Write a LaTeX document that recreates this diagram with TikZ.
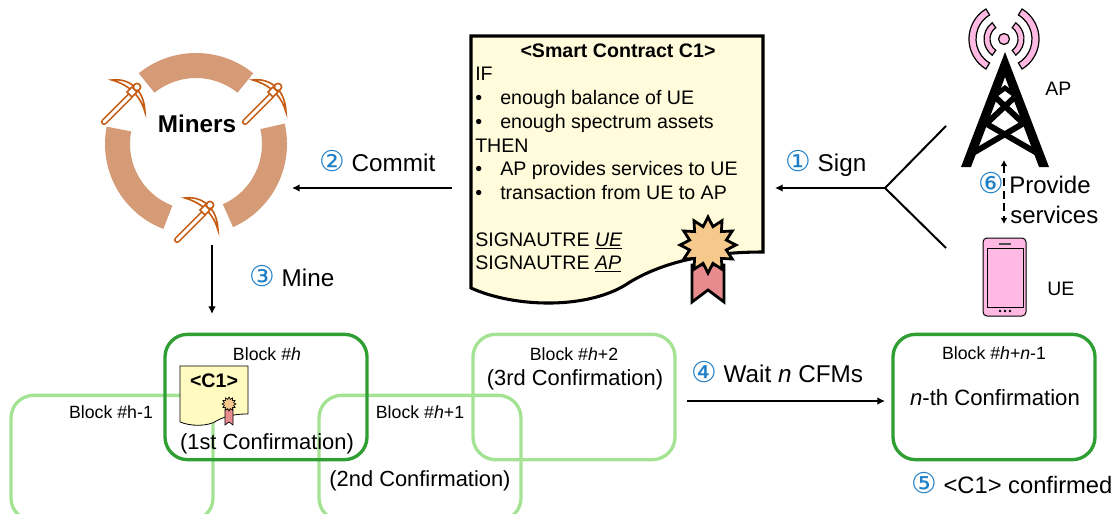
\documentclass[tikz,border=0pt]{standalone}
\usepackage{fontspec}
\setmainfont{Liberation Sans}
\newfontfamily\circfont{DejaVu Sans}
\usepackage{tikz}
\usetikzlibrary{arrows.meta}

\definecolor{ringtan}{HTML}{D59B77}
\definecolor{pickorange}{HTML}{C55A11}
\definecolor{paper}{HTML}{FFFBDB}
\definecolor{minipaper}{HTML}{FFFBC0}
\definecolor{sealgold}{HTML}{F4C98B}
\definecolor{ribbonred}{HTML}{E88B8F}
\definecolor{devpink}{HTML}{FFB9E2}
\definecolor{darkgreen}{HTML}{2F9E33}
\definecolor{lightgreen}{HTML}{A5E394}
\definecolor{stepblue}{HTML}{1F7FC8}

\newcommand{\fsz}[1]{\fontsize{#1}{#1}\selectfont}
\newcommand{\stepno}[1]{{\circfont\color{stepblue}\fsz{21.5}#1}}

\tikzset{
  txt/.style={inner sep=0pt, anchor=base west, text=black},
  big/.style={txt, font=\fsz{18.2}},
  conf/.style={inner sep=0pt, anchor=base, font=\fsz{16.4}},
  small/.style={inner sep=0pt, anchor=base, font=\fsz{13.3}},
  doc/.style={txt, font=\fsz{14.7}},
  link/.style={black, line width=1.3pt, arrows=-{Latex[length=2mm,width=2mm]}},
  blockbox/.style={draw, rounded corners=17pt, line width=2.5pt, minimum width=151.5pt, minimum height=94pt, inner sep=0pt},
  pickaxe/.pic={
    \draw [pickorange, line width=4.6pt, line cap=round] (-28,30) -- (-2,4); % handle
    \draw [white, line width=2.2pt, line cap=round] (-28,30) -- (-2,4);
    \draw [pickorange, fill=white, line width=1.2pt] (-20,-12) .. controls (-4,-14) and (12,-4) .. (13,20) .. controls (9,6) and (0,-6) .. cycle; % blade
    \draw [pickorange, fill=white, line width=1.2pt] (5,-5) circle (3.6);
    \draw [pickorange, fill=white, line width=1.2pt] (0,-5) -- (5,0) -- (0,5) -- (-5,0) -- cycle;
  }
}

% #1,#2 top left corner, #3 xscale, #4 yscale, #5 line width, #6 colour
\newcommand{\drawpaper}[6]{
  \draw [shift={(#1,#2)}, xscale=#3, yscale=#4, line width=#5, fill=#6] (0,252) .. controls (44,272) and (119,274) .. (159,246) .. controls (199,222) and (249,216) .. (292,216) -- (292,0) -- (0,0) -- cycle;
}
% #1,#2 centre of the seal, #3 scale, #4 line width, #5 end of the ribbon
\newcommand{\drawseal}[5]{
  \begin{scope}[shift={(#1,#2)}, scale=#3, line width=#4]
    \draw [fill=ribbonred] (-16,20) -- (16,20) -- (16,#5) -- (0,#5-12) -- (-16,#5) -- cycle;
    \draw [fill=sealgold] plot [samples at={0,...,24}] ({(28-9*mod(\x,2))*cos(15*\x)},{(28-9*mod(\x,2))*sin(15*\x)}) -- cycle;
  \end{scope}
}
% one radio wave, left and right: #1 inner radius, #2 outer radius, #3 half angle
\newcommand{\drawwave}[3]{
  \draw [black, fill=devpink, line width=0.9pt] (1004,39) ++(180-#3:#1) arc (180-#3:180+#3:#1) -- ++(180+#3:#2-#1) arc (180+#3:180-#3:#2) -- cycle;
  \draw [black, fill=devpink, line width=0.9pt] (1004,39) ++(-#3:#1) arc (-#3:#3:#1) -- ++(#3:#2-#1) arc (#3:-#3:#2) -- cycle;
}

\begin{document}
\begin{tikzpicture}[x=0.75pt, y=0.75pt, yscale=-1]
  \clip (0,0) rectangle (1114,514);

  % miners ring
  \fill [ringtan] (196,144) ++(-129:66) arc (-129:-51:66) -- ++(-51:25) arc (-51:-129:91) -- cycle;
  \fill [ringtan] (196,144) ++(-13:66) arc (-13:66:66) -- ++(66:25) arc (66:-13:91) -- cycle;
  \fill [ringtan] (196,144) ++(111:66) arc (111:191:66) -- ++(191:25) arc (191:111:91) -- cycle;
  \pic [transform shape] at (132,92) {pickaxe};
  \pic [transform shape] at (273,92) {pickaxe};
  \pic [transform shape] at (205,210) {pickaxe};
  \node [inner sep=0pt, font=\bfseries\fsz{18.2}] (miners) at (197,124) {Miners};

  % smart contract
  \drawpaper{471}{36}{1}{1}{2.3pt}{paper}
  \drawseal{708}{245}{1}{2.1pt}{57}
  \node [inner sep=0pt, anchor=base, font=\bfseries\fsz{14.7}] (title) at (618,57) {<Smart Contract C1>};
  \node [doc] (ifline) at (475,80) {IF};
  \node [doc] (b1) at (475,104) {•};
  \node [doc] (balance) at (500,104) {enough balance of UE};
  \node [doc] (b2) at (475,128) {•};
  \node [doc] (spectrum) at (500,128) {enough spectrum assets};
  \node [doc] (thenline) at (475,152) {THEN};
  \node [doc] (b3) at (475,175) {•};
  \node [doc] (services) at (500,175) {AP provides services to UE};
  \node [doc] (b4) at (475,199) {•};
  \node [doc] (transaction) at (500,199) {transaction from UE to AP};
  \node [doc] (signue) at (475,246) {SIGNAUTRE \underline{\textit{UE}}};
  \node [doc] (signap) at (475,269) {SIGNAUTRE \underline{\textit{AP}}};

  % tower
  \drawwave{28}{35}{59}
  \drawwave{14}{20}{54}
  \draw [black, fill=devpink, line width=0.9pt] (1004,39) circle (5.5);
  \fill [black] (1005,52) -- (1049,167) -- (1039,167) -- (1005,77) -- (971,167) -- (961,167) -- cycle;
  \draw [black, line width=4.4pt] (973,153) -- (1024,123);
  \draw [black, line width=4.4pt] (985,123) -- (1037,153);
  \draw [black, line width=4.4pt] (987,123) -- (1017,95);
  \draw [black, line width=4.4pt] (1023,123) -- (993,95);
  \draw [black, line width=3.6pt] (994,96) -- (1005,88) -- (1016,96);
  \node [txt, font=\fsz{14.6}] (ap) at (1045,95) {AP};

  % phone
  \draw [black, fill=devpink, line width=0.75pt, rounded corners=3pt] (983,238) rectangle (1026,316);
  \draw [black, line width=0.75pt] (987,248) rectangle (1023,307);
  \draw [black!70, line width=0.9pt] (999,244) -- (1011,244);
  \foreach \dotx in {1000,1005,1010} {
    \fill [black] (\dotx,311) circle (1.3);
  }
  \node [txt, font=\fsz{14.6}] (ue) at (1047,295) {UE};

  % connectors on the top row
  \coordinate (apend) at (946,126);
  \coordinate (ueend) at (946,248);
  \coordinate (fork) at (885,188);
  \coordinate (signend) at (775,188);
  \coordinate (commitstart) at (452,188);
  \coordinate (commitend) at (292,188);
  \coordinate (minestart) at (212,245);
  \coordinate (mineend) at (212,314);
  \coordinate (apdown) at (1004,160);
  \coordinate (uedown) at (1004,224);
  \draw [black, line width=1.5pt] (apend) -- (fork) -- (ueend);
  \draw [link] (fork) -- (signend);
  \draw [link] (commitstart) -- (commitend);
  \draw [link] (minestart) -- (mineend);
  \draw [black, line width=1.3pt, dash pattern=on 6pt off 3.5pt, arrows={Latex[length=1.6mm,width=1.8mm]-Latex[length=1.6mm,width=1.8mm]}] (apdown) -- (uedown);

  \node [big] (sign) at (785,171) {\stepno{①} Sign};
  \node [big] (commit) at (319,171) {\stepno{②} Commit};
  \node [big] (mine) at (249,286) {\stepno{③} Mine};
  \node [big, font=\fsz{18}] (provide) at (978,193) {\stepno{⑥}\hspace{4pt}Provide};
  \node [big, font=\fsz{18}] (servicelabel) at (1010,223) {services};

  % blocks
  \node [blockbox, lightgreen] (blockprev) at (112,458) {};
  \node [blockbox, lightgreen] (blockthree) at (574,397) {};
  \node [blockbox, lightgreen] (blocktwo) at (420,458) {};
  \node [blockbox, darkgreen] (blockone) at (266,397) {};
  \node [blockbox, darkgreen] (blockn) at (994,397) {};
  \drawpaper{180}{366}{0.233}{0.222}{0.6pt}{minipaper}
  \drawseal{229}{404}{0.25}{0.5pt}{84}

  \node [inner sep=0pt, anchor=base, font=\bfseries\fsz{14.7}] (cone) at (214,387) {<C1>};
  \node [small] (lblone) at (267,360) {Block \#\textit{h}};
  \node [small] (lblprev) at (111,418) {Block \#h-1};
  \node [small] (lbltwo) at (420,418) {Block \#\textit{h}+1};
  \node [small] (lblthree) at (574,360) {Block \#\textit{h}+2};
  \node [small] (lbln) at (994,359) {Block \#\textit{h}+\textit{n}-1};
  \node [conf] (confone) at (267,449) {(1st Confirmation)};
  \node [conf] (conftwo) at (420,486) {(2nd Confirmation)};
  \node [conf] (confthree) at (575,385) {(3rd Confirmation)};
  \node [conf, font=\fsz{16.6}] (confn) at (995,405) {\textit{n}-th Confirmation};

  \coordinate (waitstart) at (687,401);
  \coordinate (waitend) at (885,401);
  \draw [link] (waitstart) -- (waitend);
  \node [big] (wait) at (691,382) {\stepno{④} Wait \textit{n} CFMs};
  \node [big, font=\fsz{17.8}] (confirmed) at (911,493) {\stepno{⑤} <C1> confirmed};
\end{tikzpicture}
\end{document}
